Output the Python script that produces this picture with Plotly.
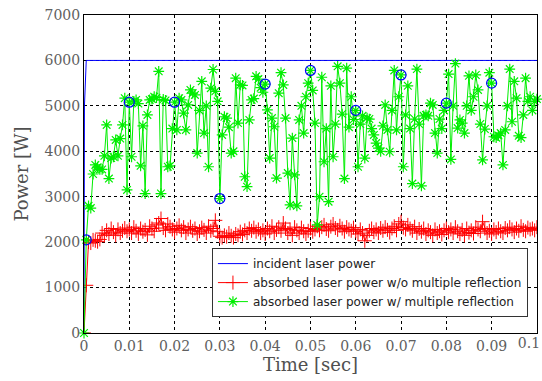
import plotly.graph_objects as go

# time axis: 0 .. 0.1 s every 0.5 ms (201 samples)
n_steps = 201
dt = 0.0005
time = [round(i * dt, 4) for i in range(n_steps)]

incident_t = [0.0, 0.0001, 0.0005, 0.1]
incident_p = [0, 5000, 6000, 6000]

absorbed_wo = [
    0, 1050, 2000, 1980, 2050, 2030, 2010, 2060, 2200, 2150, 2260, 2180, 2300, 2220, 2150, 2280, 2200, 2250, 2310, 2240,
    2280, 2200, 2330, 2250, 2180, 2300, 2230, 2270, 2160, 2350, 2300, 2240, 2380, 2420, 2520, 2310, 2260, 2400, 2340, 2280,
    2220, 2300, 2370, 2260, 2330, 2200, 2280, 2340, 2250, 2300, 2180, 2240, 2320, 2270, 2200, 2350, 2250, 2300, 2480, 2230,
    2130, 2100, 2150, 2120, 2200, 2140, 2100, 2180, 2150, 2230, 2170, 2260, 2200, 2300, 2250, 2320, 2230, 2280, 2200, 2260,
    2180, 2300, 2240, 2350, 2200, 2270, 2330, 2250, 2420, 2300, 2200, 2280, 2150, 2330, 2260, 2200, 2320, 2240, 2180, 2250,
    2300, 2230, 2280, 2350, 2260, 2330, 2380, 2290, 2250, 2340, 2400, 2310, 2270, 2360, 2300, 2230, 2330, 2280, 2250, 2320,
    2240, 2180, 2280, 2200, 2030, 2150, 2250, 2300, 2220, 2280, 2200, 2310, 2250, 2330, 2270, 2210, 2300, 2350, 2260, 2400,
    2450, 2320, 2280, 2380, 2300, 2250, 2340, 2200, 2290, 2230, 2300, 2180, 2260, 2220, 2150, 2280, 2200, 2240, 2170, 2260,
    2300, 2220, 2280, 2200, 2330, 2240, 2180, 2270, 2150, 2300, 2210, 2260, 2190, 2330, 2280, 2240, 2450, 2300, 2200, 2250,
    2180, 2280, 2220, 2300, 2240, 2200, 2310, 2260, 2330, 2280, 2220, 2300, 2250, 2350, 2270, 2240, 2320, 2280, 2300, 2260,
    2330,
]

absorbed_w = [
    0, 2050, 2800, 2750, 3500, 3700, 3650, 3600, 3600, 3900, 4580, 3400, 3850, 3880, 4250, 3900, 4280, 4580, 5170, 3150,
    5080, 3880, 5100, 5130, 5050, 3680, 4560, 3070, 4800, 5130, 5150, 5200, 5180, 5760, 3070, 5140, 5120, 3660, 3680, 4500,
    5080, 4470, 5170, 5130, 4840, 4470, 5020, 5350, 5280, 5240, 3960, 4900, 5540, 4400, 5000, 3660, 5390, 5800, 5320, 5100,
    2960, 4360, 4760, 4730, 4530, 3960, 4000, 5610, 4620, 5460, 5450, 3440, 3220, 4690, 5130, 5160, 5650, 5590, 5400, 5300,
    5480, 4910, 3850, 4730, 4540, 3410, 5280, 5730, 5460, 4730, 3520, 2820, 4290, 3480, 2800, 4690, 5000, 4400, 5200, 5500,
    5780, 5340, 4620, 2380, 3000, 5630, 3770, 4500, 2890, 5440, 3880, 4600, 5870, 5500, 4820, 3400, 5830, 4530, 5200, 4700,
    4900, 3660, 4600, 4780, 3850, 4730, 4710, 4500, 4360, 4180, 4070, 4000, 4560, 5020, 4470, 3990, 4900, 5780, 4470, 5200,
    5680, 3660, 4800, 5440, 4500, 3290, 4710, 5810, 4600, 3240, 4780, 4800, 4780, 5060, 5020, 4400, 3960, 4710, 4500, 4900,
    5060, 5700, 3820, 5000, 5930, 4510, 4690, 4620, 4400, 5000, 5660, 4900, 5200, 5680, 5350, 4600, 3810, 4490, 5000, 5730,
    5500, 4320, 4300, 4350, 4400, 3700, 4470, 5000, 5810, 4650, 5540, 5170, 4340, 4300, 4800, 5610, 5100, 5200, 4900, 5100,
    5150,
]

# circled samples every 10 ms (plus the first step)
circle_idx = [1, 20, 40, 60, 80, 100, 120, 140, 160, 180]

x_ticks = [0, 0.01, 0.02, 0.03, 0.04, 0.05, 0.06, 0.07, 0.08, 0.09, 0.1]
x_tick_text = ["0", "0.01", "0.02", "0.03", "0.04", "0.05", "0.06", "0.07", "0.08", "0.09", "0.1"]
y_ticks = [0, 1000, 2000, 3000, 4000, 5000, 6000, 7000]

fig = go.Figure()

fig.add_trace(go.Scatter(
    x=incident_t, y=incident_p, mode="lines", name="incident laser power",
    line=dict(color="#0000ff", width=1),
))
fig.add_trace(go.Scatter(
    x=time, y=absorbed_wo, mode="lines+markers",
    name="absorbed laser power w/o multiple reflection",
    line=dict(color="#ff0000", width=1),
    marker=dict(symbol="cross-thin-open", size=10, color="#ff0000",
                line=dict(color="#ff0000", width=1)),
))
fig.add_trace(go.Scatter(
    x=time, y=absorbed_w, mode="lines+markers",
    name="absorbed laser power w/ multiple reflection",
    line=dict(color="#00ee00", width=1),
    marker=dict(symbol="asterisk-open", size=9, color="#00ee00",
                line=dict(color="#00ee00", width=1.2)),
    cliponaxis=False,
))
fig.add_trace(go.Scatter(
    x=[time[i] for i in circle_idx], y=[absorbed_w[i] for i in circle_idx],
    mode="markers", showlegend=False, xaxis="x2", yaxis="y",
    marker=dict(symbol="circle-open", size=10, color="#0000ff",
                line=dict(color="#0000ff", width=1.2)),
))

axis_font = dict(family="DejaVu Serif", size=14, color="#606060")
title_font = dict(family="DejaVu Serif", size=18, color="#505050")
x_range = [0, 0.10002]

fig.update_layout(
    width=542, height=381,
    margin=dict(l=84, r=5, t=15, b=48),
    paper_bgcolor="white", plot_bgcolor="white",
    showlegend=True,
    legend=dict(
        x=0.98, y=0.05, xanchor="right", yanchor="bottom",
        bgcolor="white", bordercolor="#333333", borderwidth=1,
        font=dict(family="DejaVu Sans", size=12, color="#222222"),
        tracegroupgap=0, itemwidth=30,
    ),
    xaxis=dict(
        range=x_range, tickvals=x_ticks, ticktext=x_tick_text[:-1] + [""],
        showgrid=True, gridcolor="black", griddash="3px,3px", gridwidth=1,
        showline=True, linecolor="black", linewidth=1, mirror=True,
        ticks="", tickfont=axis_font, zeroline=False,
        ticklabeloverflow="allow", automargin=False,
        title=dict(text="Time [sec]", font=title_font, standoff=4),
    ),
    # last tick label drawn on an overlay axis so it can be nudged inside the page
    xaxis2=dict(
        range=x_range, overlaying="x", anchor="y", side="bottom",
        tickvals=[x_ticks[-1]], ticktext=[x_tick_text[-1]],
        ticklabelshift=-8, showgrid=False, showline=False, zeroline=False,
        ticks="", tickfont=axis_font, automargin=False, ticklabeloverflow="allow",
    ),
    yaxis=dict(
        range=[0, 7000], tickvals=y_ticks,
        showgrid=True, gridcolor="black", griddash="3px,3px", gridwidth=1,
        showline=True, linecolor="black", linewidth=1, mirror=True,
        ticks="", tickfont=axis_font, zeroline=False, automargin=False,
        title=dict(text="Power [W]", font=title_font, standoff=11),
    ),
)

fig.write_html("out.html")
